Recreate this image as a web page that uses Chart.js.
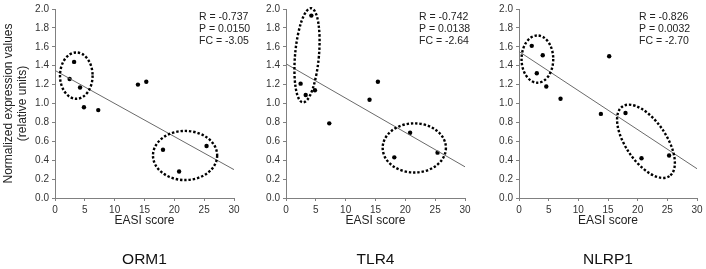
<!DOCTYPE html>
<html>
<head>
<meta charset="utf-8">
<script src="https://cdn.jsdelivr.net/npm/chart.js@4/dist/chart.umd.min.js"></script>
<style>
  html, body { margin: 0; padding: 0; background: #fff; }
  #wrap { position: relative; width: 706px; height: 269px; }
  #wrap canvas { position: absolute; left: 0; top: 0; }
</style>
</head>
<body>
<div id="wrap">
  <canvas id="c0" width="706" height="269"></canvas>
  <canvas id="c1" width="706" height="269"></canvas>
  <canvas id="c2" width="706" height="269"></canvas>
</div>
<script>
// data
const genes = ['ORM1', 'TLR4', 'NLRP1'];
const easiORM1 = [2.45, 3.2, 4.2, 4.85, 7.25, 13.9, 15.3, 18.1, 20.8, 25.4];
const valORM1 = [1.26, 1.44, 1.17, 0.96, 0.93, 1.20, 1.23, 0.51, 0.28, 0.55];
const easiTLR4 = [2.45, 3.3, 4.25, 4.85, 7.25, 14.0, 15.4, 18.15, 20.8, 25.4];
const valTLR4 = [1.21, 1.09, 1.93, 1.14, 0.79, 1.04, 1.23, 0.43, 0.69, 0.48];
const easiNLRP1 = [2.15, 3.0, 4.0, 4.6, 7.0, 13.8, 15.2, 17.95, 20.65, 25.3];
const valNLRP1 = [1.61, 1.32, 1.51, 1.18, 1.05, 0.89, 1.50, 0.90, 0.42, 0.45];

// regression line ends (x = 0 and x = 30)
const fitStart = [1.35, 1.42, 1.55];
const fitEnd = [0.30, 0.33, 0.31];

const statR = ['-0.737', '-0.742', '-0.826'];
const statP = ['0.0150', '0.0138', '0.0032'];
const statFC = ['-3.05', '-2.64', '-2.70'];

const xTicks = [0, 5, 10, 15, 20, 25, 30];
const yTicks = [0, 0.2, 0.4, 0.6, 0.8, 1.0, 1.2, 1.4, 1.6, 1.8, 2.0];

// dotted circles around groups: centre, half axes (data units), tilt in degrees
const groupsORM1 = [[3.57, 1.295, 2.73, 0.245, 0], [21.8, 0.45, 5.38, 0.26, 0]];
const groupsTLR4 = [[3.52, 1.51, 2.0, 0.50, 5], [21.5, 0.53, 5.3, 0.26, 0]];
const groupsNLRP1 = [[3.1, 1.47, 2.67, 0.25, 0], [21.4, 0.60, 7.08, 0.215, 56]];

const xs = [easiORM1, easiTLR4, easiNLRP1];
const ys = [valORM1, valTLR4, valNLRP1];
const groups = [groupsORM1, groupsTLR4, groupsNLRP1];

// layout of each panel inside the shared 706x269 page
const padLeft = [0, 262, 495];
const padRight = [472, 241, 9];
const axisWidth = [55, 24, 24];
const statsOffset = [144, 133, 120];

const FONT = '"Liberation Sans", Arial, sans-serif';
const AXIS = '#808080';

const decor = {
    id: 'decor',
    afterDatasetsDraw(chart) {
        const i = chart.options.plugins.decor.idx;
        const ctx = chart.ctx;
        const sx = chart.scales.x, sy = chart.scales.y;
        const area = chart.chartArea;
        const pxX = sx.getPixelForValue(1) - sx.getPixelForValue(0);
        const pxY = sy.getPixelForValue(0) - sy.getPixelForValue(1);

        ctx.save();
        ctx.strokeStyle = '#000';
        ctx.lineWidth = 2.4;
        ctx.setLineDash([2.4, 1.9]);
        groups[i].forEach(g => {
            ctx.beginPath();
            ctx.ellipse(sx.getPixelForValue(g[0]), sy.getPixelForValue(g[1]),
                g[2] * pxX, g[3] * pxY, g[4] * Math.PI / 180, 0, Math.PI * 2);
            ctx.stroke();
        });
        ctx.setLineDash([]);

        ctx.fillStyle = '#222';
        ctx.font = '10.5px ' + FONT;
        ctx.textBaseline = 'middle';
        ctx.textAlign = 'left';
        const tx = area.left + statsOffset[i];
        ctx.fillText('R = ' + statR[i], tx, 17);
        ctx.fillText('P = ' + statP[i], tx, 29);
        ctx.fillText('FC = ' + statFC[i], tx, 41);

        ctx.font = '15.5px ' + FONT;
        ctx.textAlign = 'center';
        ctx.fillStyle = '#111';
        ctx.fillText(genes[i], (area.left + area.right) / 2, 260);
        ctx.restore();
    }
};

function makeChart(i) {
    const pts = xs[i].map((x, k) => ({x: x, y: ys[i][k]}));
    return new Chart(document.getElementById('c' + i), {
        data: {
            datasets: [{
                type: 'line',
                data: [{x: 0, y: fitStart[i]}, {x: 30, y: fitEnd[i]}],
                borderColor: '#6a6a6a',
                borderWidth: 1,
                pointRadius: 0,
                fill: false
            }, {
                type: 'scatter',
                data: pts,
                backgroundColor: '#000',
                borderWidth: 0,
                pointRadius: 2.2
            }]
        },
        options: {
            responsive: false,
            animation: false,
            devicePixelRatio: 1,
            layout: {padding: {left: padLeft[i], right: padRight[i], top: 7, bottom: 41}},
            plugins: {legend: {display: false}, tooltip: {enabled: false}, decor: {idx: i}},
            scales: {
                x: {
                    type: 'linear', min: 0, max: 30,
                    afterBuildTicks: s => { s.ticks = xTicks.map(v => ({value: v})); },
                    afterFit: s => { s.height = 30; },
                    grid: {drawOnChartArea: false, tickLength: 3, color: AXIS},
                    border: {color: AXIS},
                    ticks: {color: '#333', font: {family: FONT, size: 10}, padding: 3, maxRotation: 0, autoSkip: false},
                    title: {display: true, text: 'EASI score', color: '#222', font: {family: FONT, size: 12}, padding: 0}
                },
                y: {
                    type: 'linear', min: 0, max: 2,
                    afterBuildTicks: s => { s.ticks = yTicks.map(v => ({value: v})); },
                    afterFit: s => { s.width = axisWidth[i]; },
                    grid: {drawOnChartArea: false, tickLength: 3, color: AXIS},
                    border: {color: AXIS},
                    ticks: {color: '#333', font: {family: FONT, size: 10}, padding: 3,
                        callback: v => v.toFixed(1)},
                    title: {
                        display: i === 0,
                        text: ['Normalized expression values', '(relative units)'],
                        color: '#222',
                        font: {family: FONT, size: 12, lineHeight: 1.15},
                        padding: {top: 2, bottom: 0}
                    }
                }
            }
        },
        plugins: [decor]
    });
}

genes.forEach((g, i) => makeChart(i));
</script>
</body>
</html>
